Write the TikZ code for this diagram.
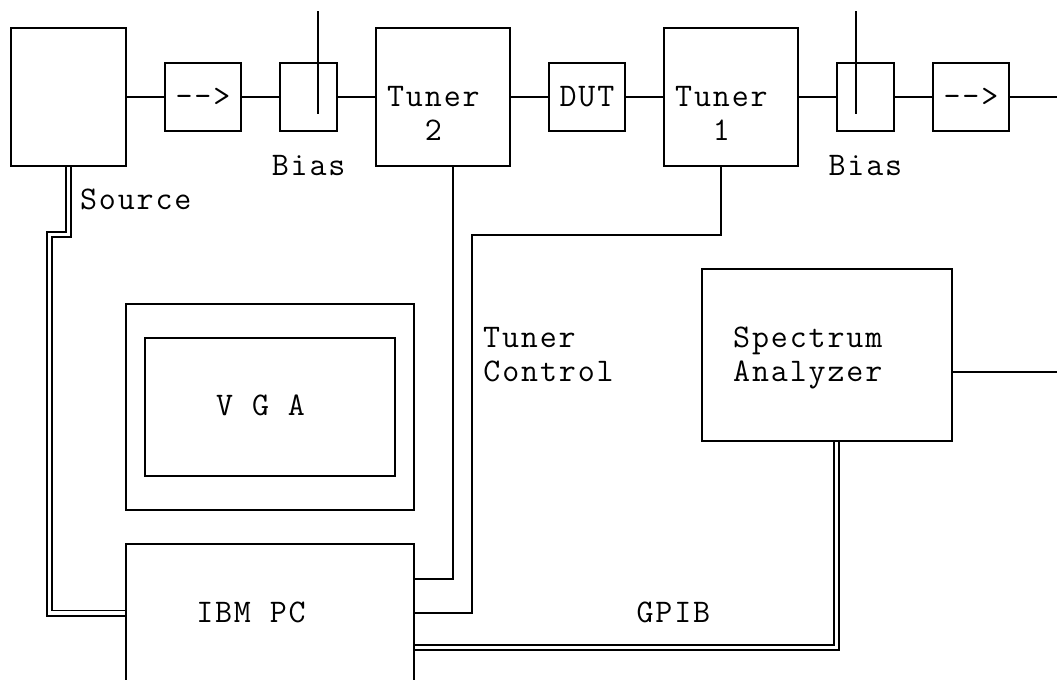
\documentclass[tikz,border=0pt]{standalone}
\usepackage{fontspec}
\newfontfamily\monofam{Latin Modern Mono}[LetterSpace=5.7]
\usetikzlibrary{backgrounds}
\begin{document}
\begin{tikzpicture}[x=19.2pt,y=-34.4pt,
  box/.style={draw, line width=2pt, inner sep=0pt, outer sep=0pt},
  cells/.style 2 args={minimum width=#1*19.2pt, minimum height=#2*34.4pt},
  wire/.style={line width=2pt},
  dbl/.style={double, double distance=3.6pt, line width=1.7pt},
  lbl/.style={font=\monofam\fontsize{33}{33}\selectfont, inner sep=0pt, anchor=base}]
\clip (-0.5729,-0.8227) rectangle (54.479,18.916);
% boxes
\node[box, cells={6}{4}]  (source) at (3,2) {};
\node[box, cells={4}{2}]  (iso1)   at (10,2) {};
\node[box, cells={3}{2}]  (bias1)  at (15.5,2) {};
\node[box, cells={7}{4}]  (tuner2) at (22.5,2) {};
\node[box, cells={4}{2}]  (dut)    at (30,2) {};
\node[box, cells={7}{4}]  (tuner1) at (37.5,2) {};
\node[box, cells={3}{2}]  (bias2)  at (44.5,2) {};
\node[box, cells={4}{2}]  (iso2)   at (50,2) {};
\node[box, cells={13}{5}] (sa)     at (42.5,9.5) {};
\node[box, cells={15}{6}] (vgaout) at (13.5,11) {};
\node[box, cells={13}{4}] (vgain)  at (13.5,11) {};
\node[box, cells={15}{5}] (ibm)    at (13.5,17.5) {};
% free ends
\coordinate (out1) at (54.6,2);
\coordinate (out2) at (54.6,10);
\coordinate (s1top) at (16,-0.5);
\coordinate (s1bot) at (16,2.5);
\coordinate (s2top) at (44,-0.5);
\coordinate (s2bot) at (44,2.5);
% background layer: white page and double cables
\begin{pgfonlayer}{background}
\fill[white] (-0.5729,-0.8227) rectangle (54.479,18.916);
\draw[dbl] (source.south) -- (3,6) -- (2,6) |- (ibm.west |- 0,17);
\draw[dbl] (ibm.east |- 0,18) -- (43,18) -- (sa.south -| 43,0);
\end{pgfonlayer}
% signal chain
\draw[wire] (source.east) -- (iso1.west);
\draw[wire] (iso1.east) -- (bias1.west);
\draw[wire] (bias1.east) -- (tuner2.west);
\draw[wire] (tuner2.east) -- (dut.west);
\draw[wire] (dut.east) -- (tuner1.west);
\draw[wire] (tuner1.east) -- (bias2.west);
\draw[wire] (bias2.east) -- (iso2.west);
\draw[wire] (iso2.east) -- (out1);
\draw[wire] (s1top) -- (s1bot);
\draw[wire] (s2top) -- (s2bot);
% control lines
\draw[wire] (tuner2.south -| 23,0) -- (23,16) -- (ibm.east |- 0,16);
\draw[wire] (tuner1.south -| 37,0) -- (37,6) -- (24,6) -- (24,17) -- (ibm.east |- 0,17);
\draw[wire] (sa.east |- 0,10) -- (out2);
% labels
\node[lbl] (l-iso1)  at (10,2.27)   {-{}-{}>};
\node[lbl] (l-bias1) at (15.5,4.27) {Bias};
\node[lbl] (l-t2a)   at (22,2.27)   {Tuner};
\node[lbl] (l-t2b)   at (22,3.27)   {2};
\node[lbl] (l-dut)   at (30,2.27)   {DUT};
\node[lbl] (l-t1a)   at (37,2.27)   {Tuner};
\node[lbl] (l-t1b)   at (37,3.27)   {1};
\node[lbl] (l-bias2) at (44.5,4.27) {Bias};
\node[lbl] (l-iso2)  at (50,2.27)   {-{}-{}>};
\node[lbl] (l-src)   at (6.5,5.27)  {Source};
\node[lbl] (l-tc1)   at (27,9.27)   {Tuner};
\node[lbl] (l-tc2)   at (28,10.27)  {Control};
\node[lbl] (l-sa1)   at (41.5,9.27) {Spectrum};
\node[lbl] (l-sa2)   at (41.5,10.27){Analyzer};
\node[lbl] (l-vga)   at (13,11.27)  {V G A};
\node[lbl] (l-ibm)   at (12.5,17.27){IBM PC};
\node[lbl] (l-gpib)  at (34.5,17.27){GPIB};
\end{tikzpicture}
\end{document}
